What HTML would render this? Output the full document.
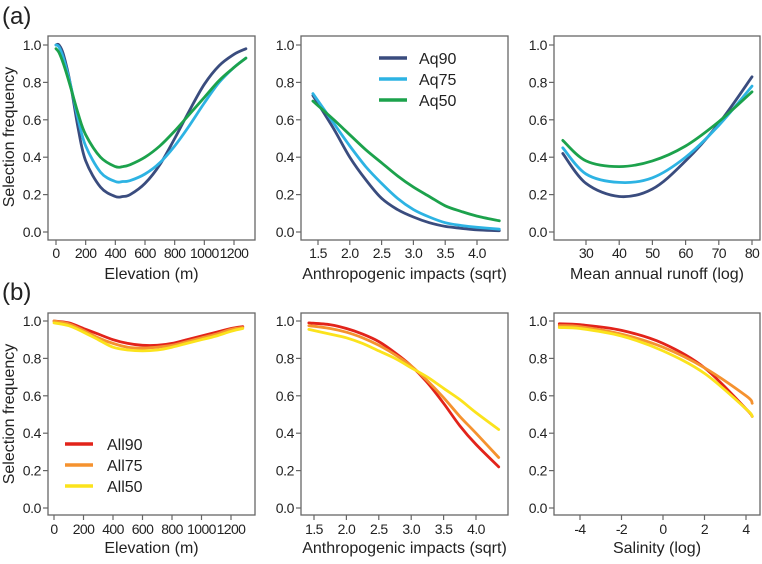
<!DOCTYPE html>
<html><head><meta charset="utf-8"><style>
body{margin:0;background:#fff;}
svg text{font-family:"Liberation Sans",Arial,sans-serif;fill:#222;}
</style></head><body>
<svg id="chart" width="762" height="559" viewBox="0 0 762 559" xmlns="http://www.w3.org/2000/svg"></svg>
<script>
// ---- data ----
const elevX = [0,20,50,100,150,200,300,400,450,500,600,700,800,900,1000,1100,1200,1280];
const aq90Elev = [1.0,1.0,0.95,0.78,0.55,0.38,0.24,0.19,0.19,0.20,0.26,0.36,0.50,0.65,0.79,0.89,0.95,0.98];
const aq75Elev = [1.0,0.99,0.93,0.78,0.60,0.46,0.32,0.27,0.27,0.275,0.31,0.37,0.46,0.57,0.69,0.80,0.88,0.93];
const aq50Elev = [0.98,0.96,0.90,0.77,0.63,0.52,0.40,0.35,0.35,0.36,0.40,0.46,0.54,0.63,0.72,0.81,0.88,0.93];
const impX = [1.42,1.75,2.0,2.25,2.5,2.75,3.0,3.25,3.5,3.75,4.0,4.35];
const aq90Imp = [0.73,0.55,0.40,0.28,0.18,0.12,0.08,0.05,0.03,0.02,0.012,0.007];
const aq75Imp = [0.74,0.58,0.46,0.35,0.26,0.18,0.12,0.08,0.05,0.035,0.025,0.015];
const aq50Imp = [0.70,0.60,0.52,0.44,0.37,0.30,0.24,0.19,0.14,0.11,0.085,0.06];
const runX = [23,30,40,50,60,70,80];
const aq90Run = [0.42,0.26,0.19,0.23,0.38,0.58,0.83];
const aq75Run = [0.45,0.31,0.265,0.29,0.40,0.57,0.78];
const aq50Run = [0.49,0.38,0.35,0.38,0.46,0.59,0.75];
const elevX2 = [0,100,200,300,400,500,600,700,800,900,1000,1100,1200,1280];
const all90Elev = [1.0,0.99,0.96,0.93,0.90,0.88,0.87,0.87,0.88,0.90,0.92,0.94,0.96,0.97];
const all75Elev = [1.0,0.985,0.95,0.91,0.88,0.86,0.855,0.86,0.87,0.89,0.91,0.93,0.955,0.965];
const all50Elev = [0.99,0.975,0.94,0.90,0.86,0.845,0.84,0.845,0.86,0.88,0.90,0.92,0.945,0.96];
const all90Imp = [0.99,0.98,0.96,0.93,0.89,0.83,0.76,0.67,0.56,0.44,0.34,0.22];
const all75Imp = [0.975,0.96,0.94,0.91,0.87,0.82,0.76,0.68,0.59,0.49,0.40,0.27];
const all50Imp = [0.955,0.93,0.91,0.88,0.84,0.80,0.75,0.70,0.64,0.58,0.51,0.42];
const salX = [-5,-4,-2,0,2,4,4.3];
const all90Sal = [0.985,0.98,0.95,0.88,0.75,0.53,0.49];
const all75Sal = [0.975,0.97,0.93,0.86,0.75,0.60,0.56];
const all50Sal = [0.965,0.96,0.92,0.84,0.72,0.53,0.49];
const yTicks = [0,0.2,0.4,0.6,0.8,1.0];
const elevTicks = [0,200,400,600,800,1000,1200];
const impTicks = [1.5,2.0,2.5,3.0,3.5,4.0];
const runTicks = [30,40,50,60,70,80];
const salTicks = [-4,-2,0,2,4];
const aqNames = ['Aq90','Aq75','Aq50'];
const allNames = ['All90','All75','All50'];

const aqCol = ['#3a4c7e','#2db3e3','#1ca24c'];
const allCol = ['#e2231a','#f5922f','#fbe31c'];
const NS = 'http://www.w3.org/2000/svg';
const svg = document.getElementById('chart');
function mk(tag, attrs, parent){const e=document.createElementNS(NS,tag);for(const k in attrs)e.setAttribute(k,attrs[k]);(parent||svg).appendChild(e);return e;}
function lin(d0,d1,r0,r1){return v=>r0+(v-d0)*(r1-r0)/(d1-d0);}
function smooth(pts){let d='M'+pts[0][0].toFixed(1)+','+pts[0][1].toFixed(1);
 for(let i=0;i<pts.length-1;i++){const p0=pts[Math.max(0,i-1)],p1=pts[i],p2=pts[i+1],p3=pts[Math.min(pts.length-1,i+2)];
 const c1=[p1[0]+(p2[0]-p0[0])/6,p1[1]+(p2[1]-p0[1])/6],c2=[p2[0]-(p3[0]-p1[0])/6,p2[1]-(p3[1]-p1[1])/6];
 d+=' C'+c1.map(v=>v.toFixed(1))+' '+c2.map(v=>v.toFixed(1))+' '+p2[0].toFixed(1)+','+p2[1].toFixed(1);}return d;}

function panel(name,box,xs,ys,xTicks,xTitle,xData,series,cols,fmt,tOff,tiOff){
 const g=mk('g',{});
 
 
 const fr=mk('rect',{x:box[0],y:box[1],width:box[2]-box[0],height:box[3]-box[1],fill:'none',stroke:'#666','stroke-width':1.3},g);
 
 
 yTicks.forEach(t=>{const y=ys(t);
  mk('line',{x1:box[0]-5,x2:box[0],y1:y,y2:y,stroke:'#666','stroke-width':1.2},g);
  const tx=mk('text',{x:box[0]-7,y:y+5,'text-anchor':'end','font-size':14,'letter-spacing':-0.4},g);tx.textContent=t.toFixed(1);
  
  });
 xTicks.forEach(t=>{const x=xs(t);
  mk('line',{x1:x,x2:x,y1:box[3],y2:box[3]+5,stroke:'#666','stroke-width':1.2},g);
  const tx=mk('text',{x:x,y:box[3]+tOff,'text-anchor':'middle','font-size':14,'letter-spacing':-0.6},g);tx.textContent=fmt(t);
  
  });
 const ti=mk('text',{x:(box[0]+box[2])/2,y:box[3]+tiOff,'text-anchor':'middle','font-size':16},g);ti.textContent=xTitle;
 
 
 series.forEach((s,i)=>{const p=mk('path',{d:smooth(xData.map((x,j)=>[xs(x),ys(s[j])])),fill:'none',stroke:cols[i],'stroke-width':2.8,'stroke-linecap':'round'},g);
  
  });
}
const rowTop=[36,240],rowBot=[313,515];
const ysT=lin(0,1,232,45), ysB=lin(0,1,508,321);
const c1=[48,255],c2=[301,508],c3=[554,760];
const xE=lin(0,1200,56,234), xE2=lin(0,1200,54,231), xI=lin(1.5,4.0,318,477), xI2=lin(1.5,4.0,314,476), xR=lin(30,80,586,752), xS=lin(-4,4,580,746);
const f0=t=>String(t), f1=t=>t.toFixed(1);
panel('panel-a-elevation',[c1[0],rowTop[0],c1[1],rowTop[1]],xE,ysT,elevTicks,'Elevation (m)',elevX,[aq90Elev,aq75Elev,aq50Elev],aqCol,f0,18,39);
panel('panel-a-impacts',[c2[0],rowTop[0],c2[1],rowTop[1]],xI,ysT,impTicks,'Anthropogenic impacts (sqrt)',impX,[aq90Imp,aq75Imp,aq50Imp],aqCol,f1,18,39);
panel('panel-a-runoff',[c3[0],rowTop[0],c3[1],rowTop[1]],xR,ysT,runTicks,'Mean annual runoff (log)',runX,[aq90Run,aq75Run,aq50Run],aqCol,f0,18,39);
panel('panel-b-elevation',[c1[0],rowBot[0],c1[1],rowBot[1]],xE2,ysB,elevTicks,'Elevation (m)',elevX2,[all90Elev,all75Elev,all50Elev],allCol,f0,19,38);
panel('panel-b-impacts',[c2[0],rowBot[0],c2[1],rowBot[1]],xI2,ysB,impTicks,'Anthropogenic impacts (sqrt)',impX,[all90Imp,all75Imp,all50Imp],allCol,f1,19,38);
panel('panel-b-salinity',[c3[0],rowBot[0],c3[1],rowBot[1]],xS,ysB,salTicks,'Salinity (log)',salX,[all90Sal,all75Sal,all50Sal],allCol,f0,19,38);

function legend(names,cols,x,y0,dy,tx){names.forEach((n,i)=>{const y=y0+i*dy;
 const l=mk('line',{x1:x,x2:x+28,y1:y,y2:y,stroke:cols[i],'stroke-width':3.5});
 
 
 const t=mk('text',{x:x+tx,y:y+6,'font-size':16});t.textContent=n;
 
 });}
legend(aqNames,aqCol,379,58,21,40);
legend(allNames,allCol,65,444,21,42);

[['(a)',24],['(b)',300]].forEach(([s,y])=>{const t=mk('text',{x:2,y:y,'font-size':24});t.textContent=s;
 
 });
[137,414].forEach(cy=>{const t=mk('text',{x:0,y:0,'font-size':16,'text-anchor':'middle',transform:'translate(14,'+cy+') rotate(-90)'});t.textContent='Selection frequency';
 
 });
</script>
</body></html>
